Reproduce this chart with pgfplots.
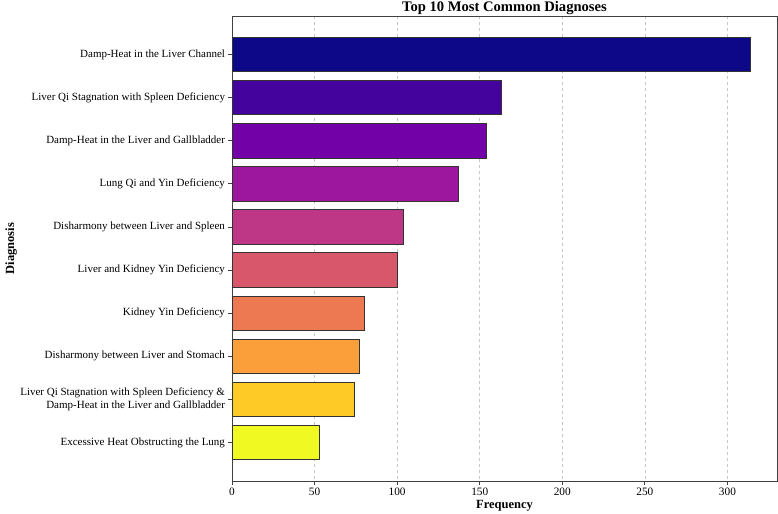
\documentclass[border=0pt]{standalone}
\usepackage{fontspec}
\setmainfont{Liberation Serif}
\usepackage{pgfplots}
\pgfplotsset{compat=1.18}
\definecolor{c0}{HTML}{0D0887}
\definecolor{c1}{HTML}{45039E}
\definecolor{c2}{HTML}{7201A8}
\definecolor{c3}{HTML}{9C179E}
\definecolor{c4}{HTML}{BD3786}
\definecolor{c5}{HTML}{D8576B}
\definecolor{c6}{HTML}{ED7953}
\definecolor{c7}{HTML}{FB9F3A}
\definecolor{c8}{HTML}{FDCA26}
\definecolor{c9}{HTML}{F0F921}
\begin{document}
\begin{tikzpicture}
\begin{axis}[
  name=ax,
  scale only axis,
  width=545bp, height=465bp,
  xbar, bar width=0.8, bar shift=0pt,
  xmin=0, xmax=330,
  ymin=-0.89, ymax=9.89,
  y dir=reverse,
  ytick={0,...,9},
  yticklabels={
    Damp-Heat in the Liver Channel,
    Liver Qi Stagnation with Spleen Deficiency,
    Damp-Heat in the Liver and Gallbladder,
    Lung Qi and Yin Deficiency,
    Disharmony between Liver and Spleen,
    Liver and Kidney Yin Deficiency,
    Kidney Yin Deficiency,
    Disharmony between Liver and Stomach,
    {Liver Qi Stagnation with Spleen Deficiency \&\\Damp-Heat in the Liver and Gallbladder},
    Excessive Heat Obstructing the Lung},
  yticklabel style={align=right, font=\fontsize{11bp}{12.5bp}\selectfont},
  xtick={0,50,...,300},
  xticklabel style={font=\fontsize{11.3bp}{12.5bp}\selectfont},
  /pgf/number format/assume math mode=true,
  tick align=outside,
  tick pos=left,
  major tick length=3.5bp,
  axis line style={draw=black!75, line width=0.8pt},
  tick style={draw=black!75, line width=0.8pt},
  xmajorgrids,
  grid style={dashed, draw=black!22, line width=0.5pt},
  every axis title shift=0pt,
  title={Top 10 Most Common Diagnoses},
  title style={font=\fontsize{14.6bp}{16bp}\selectfont\bfseries, at={(axis description cs:0.5,1)}, anchor=base, yshift=5bp},
  xlabel={Frequency},
  ylabel={Diagnosis},
  xlabel style={font=\fontsize{12.5bp}{14bp}\selectfont\bfseries, at={(axis description cs:0.5,0)}, anchor=base, yshift=-27bp},
  ylabel style={font=\fontsize{12.5bp}{14bp}\selectfont\bfseries, at={(axis description cs:0,0.5)}, anchor=north, yshift=230bp},
  every axis plot/.append style={draw=black!80, line width=0.8pt},
]
\addplot[fill=c0] coordinates {(314,0)};
\addplot[fill=c1] coordinates {(163,1)};
\addplot[fill=c2] coordinates {(154,2)};
\addplot[fill=c3] coordinates {(137,3)};
\addplot[fill=c4] coordinates {(104,4)};
\addplot[fill=c5] coordinates {(100,5)};
\addplot[fill=c6] coordinates {(80,6)};
\addplot[fill=c7] coordinates {(77,7)};
\addplot[fill=c8] coordinates {(74,8)};
\addplot[fill=c9] coordinates {(53,9)};
\end{axis}
\pgfresetboundingbox
\path[use as bounding box] (ax.south west) ++(-232bp,-33bp) rectangle ([xshift=1bp,yshift=16bp]ax.north east);
\end{tikzpicture}
\end{document}
